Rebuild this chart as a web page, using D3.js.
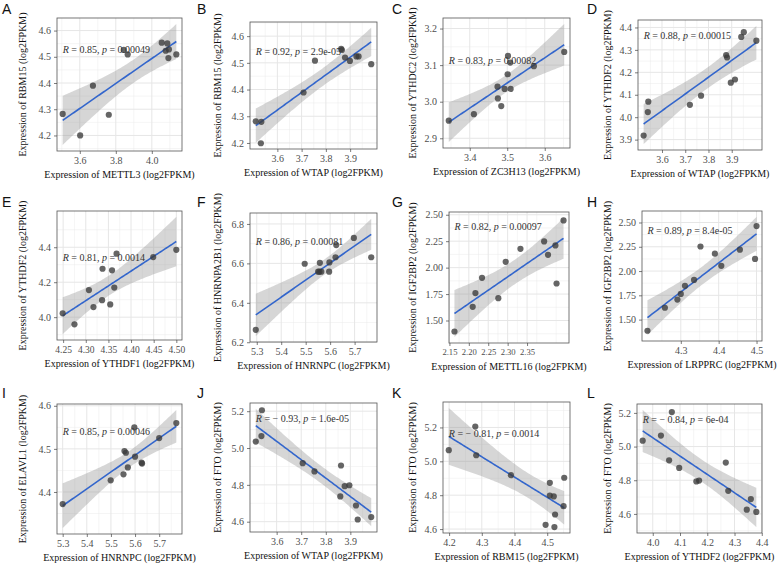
<!DOCTYPE html>
<html><head><meta charset="utf-8">
<script src="https://cdn.jsdelivr.net/npm/d3@7"></script>
<style>body{margin:0;background:#fff} svg{display:block}</style>
</head><body><svg id="c" width="779" height="566"></svg>
<script>
// ---------------- data ----------------
const panelLetters = ["A","B","C","D","E","F","G","H","I","J","K","L"];
const xGenes = ["METTL3","WTAP","ZC3H13","WTAP","YTHDF1","HNRNPC","METTL16","LRPPRC","HNRNPC","WTAP","RBM15","YTHDF2"];
const yGenes = ["RBM15","RBM15","YTHDC2","YTHDF2","YTHDF2","HNRNPA2B1","IGF2BP2","IGF2BP2","ELAVL1","FTO","FTO","FTO"];
const rLabels = ["0.85","0.92","0.83","0.88","0.81","0.86","0.82","0.89","0.85","\u2212 0.93","\u2212 0.81","\u2212 0.84"];
const pLabels = ["0.00049","2.9e-05","0.00082","0.00015","0.0014","0.00081","0.00097","8.4e-05","0.00046","1.6e-05","0.0014","6e-04"];

const xA=[3.505,3.602,3.673,3.761,3.844,3.866,4.055,4.086,4.077,4.095,4.092,4.136];
const yA=[4.282,4.200,4.390,4.279,4.526,4.509,4.554,4.551,4.523,4.528,4.495,4.509];
const xB=[3.511,3.534,3.532,3.708,3.755,3.863,3.866,3.879,3.899,3.926,3.935,3.987];
const yB=[4.281,4.279,4.199,4.389,4.508,4.552,4.548,4.520,4.507,4.524,4.524,4.495];
const xC=[3.344,3.411,3.474,3.475,3.484,3.493,3.501,3.502,3.508,3.509,3.571,3.652];
const yC=[2.948,2.966,3.041,3.009,2.988,3.035,3.075,3.125,3.107,3.035,3.097,3.136];
const xD=[3.521,3.539,3.541,3.720,3.768,3.876,3.880,3.896,3.914,3.941,3.952,4.006];
const yD=[3.918,4.023,4.069,4.055,4.096,4.277,4.266,4.154,4.168,4.358,4.379,4.341];
const xE=[4.249,4.275,4.307,4.317,4.337,4.336,4.358,4.354,4.363,4.368,4.449,4.500];
const yE=[4.022,3.959,4.155,4.058,4.277,4.097,4.268,4.073,4.169,4.363,4.344,4.385];
const xF=[5.296,5.496,5.558,5.551,5.564,5.556,5.596,5.597,5.622,5.625,5.697,5.768];
const yF=[6.263,6.598,6.603,6.558,6.558,6.558,6.558,6.605,6.631,6.693,6.729,6.631];
const xG=[2.163,2.210,2.217,2.234,2.276,2.295,2.333,2.394,2.404,2.423,2.426,2.444];
const yG=[1.396,1.629,1.759,1.904,1.711,2.055,2.178,2.248,2.121,2.210,1.850,2.446];
const xH=[4.212,4.258,4.291,4.300,4.311,4.335,4.352,4.390,4.407,4.456,4.496,4.500];
const yH=[1.385,1.622,1.706,1.764,1.848,1.909,2.253,2.179,2.054,2.220,2.125,2.463];
const xI=[5.300,5.499,5.552,5.556,5.562,5.570,5.597,5.600,5.627,5.629,5.700,5.771];
const yI=[4.372,4.427,4.441,4.495,4.491,4.457,4.550,4.482,4.468,4.466,4.525,4.560];
const xJ=[3.515,3.540,3.538,3.706,3.754,3.862,3.859,3.877,3.896,3.923,3.930,3.985];
const yJ=[5.035,5.205,5.065,4.918,4.873,4.905,4.737,4.793,4.798,4.688,4.612,4.625];
const xK=[4.199,4.280,4.283,4.389,4.508,4.552,4.550,4.508,4.520,4.524,4.522,4.495];
const yK=[5.066,5.205,5.036,4.918,4.873,4.903,4.735,4.798,4.793,4.686,4.612,4.625];
const xL=[3.963,4.030,4.070,4.060,4.097,4.160,4.170,4.268,4.277,4.345,4.360,4.380];
const yL=[5.035,5.065,5.205,4.918,4.873,4.793,4.798,4.905,4.737,4.625,4.688,4.612];

const xTicks = [
 ["3.6","3.8","4.0"], ["3.6","3.7","3.8","3.9"], ["3.4","3.5","3.6"], ["3.6","3.7","3.8","3.9"],
 ["4.25","4.30","4.35","4.40","4.45","4.50"], ["5.3","5.4","5.5","5.6","5.7"], ["2.15","2.20","2.25","2.30","2.35"], ["4.3","4.4","4.5"],
 ["5.3","5.4","5.5","5.6","5.7"], ["3.6","3.7","3.8","3.9"], ["4.2","4.3","4.4","4.5"], ["4.0","4.1","4.2","4.3","4.4"]
];
const yTicks = [
 ["4.2","4.3","4.4","4.5","4.6"], ["4.2","4.3","4.4","4.5","4.6"], ["2.9","3.0","3.1","3.2"], ["3.9","4.0","4.1","4.2","4.3","4.4"],
 ["4.0","4.2","4.4"], ["6.2","6.4","6.6","6.8"], ["1.50","1.75","2.00","2.25","2.50"], ["1.50","1.75","2.00","2.25","2.50"],
 ["4.4","4.5","4.6"], ["4.6","4.8","5.0","5.2"], ["4.6","4.8","5.0","5.2"], ["4.6","4.8","5.0","5.2"]
];
const xsAll=[xA,xB,xC,xD,xE,xF,xG,xH,xI,xJ,xK,xL];
const ysAll=[yA,yB,yC,yD,yE,yF,yG,yH,yI,yJ,yK,yL];

// ---------------- layout ----------------
const rects = [
 [57,18,182,151],[250,22,377,149],[443,18,570,148],[638,20,762,150],
 [57,211,182,340],[250,213,377,342],[449,212,569,343],[642,211,762,341],
 [57,404,182,534],[250,403,377,532],[443,402,570,533],[637,404,762,533]
];
const labelFrac = [0.24,0.23,0.33,0.12,0.36,0.22,0.11,0.15,0.21,0.12,0.24,0.12];
const xTickFont = [10,10,10,10,9.5,10,8.6,10,10,10,10,10];
const colX=[0,195,390,585], letterY=[14,207,398];
const serif = "Liberation Serif";

const svg = d3.select("#c");
svg.append("rect").attr("width",779).attr("height",566).attr("fill","#fff");

const tq = {8:2.306,9:2.262,10:2.228,11:2.201,12:2.179,13:2.160};

function fit(xs,ys){
  const n=xs.length, mx=d3.mean(xs), my=d3.mean(ys);
  let sxx=0,sxy=0; xs.forEach((x,i)=>{sxx+=(x-mx)**2; sxy+=(x-mx)*(ys[i]-my);});
  const b=sxy/sxx, a=my-b*mx;
  let sse=0; xs.forEach((x,i)=>{sse+=(ys[i]-a-b*x)**2;});
  const s=Math.sqrt(sse/(n-2)), t=tq[n-2]||2.2;
  const [x0,x1]=d3.extent(xs);
  const band=d3.range(81).map(k=>{
    const x=x0+(x1-x0)*k/80, yh=a+b*x, se=s*Math.sqrt(1/n+(x-mx)**2/sxx);
    return {x, y:yh, lo:yh-t*se, hi:yh+t*se};
  });
  return {a,b,band};
}

function minorVals(major, dom){
  const step = major[1]-major[0], out=[];
  for(let v=major[0]-step/2; v<=dom[1]+1e-9; v+=step){ if(v>=dom[0]-1e-9) out.push(v); }
  return out;
}

panelLetters.forEach((letter,i)=>{
  const [L,T,R,B]=rects[i];
  const col=i%4, row=Math.floor(i/4);
  const xs=xsAll[i], ys=ysAll[i];
  const f=fit(xs,ys);
  const xe=d3.extent(xs), xr=xe[1]-xe[0];
  const xd=[xe[0]-0.05*xr, xe[1]+0.05*xr];
  const ylo=Math.min(d3.min(ys), d3.min(f.band,d=>d.lo));
  const yhi=Math.max(d3.max(ys), d3.max(f.band,d=>d.hi));
  const yr=yhi-ylo, yd=[ylo-0.05*yr, yhi+0.05*yr];
  const x=d3.scaleLinear().domain(xd).range([L,R]);
  const y=d3.scaleLinear().domain(yd).range([B,T]);
  const xt=xTicks[i].map(Number), yt=yTicks[i].map(Number);
  const g=svg.append("g");

  // grid
  const grid=g.append("g");
  minorVals(xt,xd).forEach(v=>grid.append("line").attr("x1",x(v)).attr("x2",x(v)).attr("y1",T).attr("y2",B).attr("stroke","#ebebeb").attr("stroke-width",0.5));
  minorVals(yt,yd).forEach(v=>grid.append("line").attr("y1",y(v)).attr("y2",y(v)).attr("x1",L).attr("x2",R).attr("stroke","#ebebeb").attr("stroke-width",0.5));
  xt.forEach(v=>grid.append("line").attr("x1",x(v)).attr("x2",x(v)).attr("y1",T).attr("y2",B).attr("stroke","#e6e6e6").attr("stroke-width",1));
  yt.forEach(v=>grid.append("line").attr("y1",y(v)).attr("y2",y(v)).attr("x1",L).attr("x2",R).attr("stroke","#e6e6e6").attr("stroke-width",1));

  // ribbon + line
  g.append("path").datum(f.band)
    .attr("d",d3.area().x(d=>x(d.x)).y0(d=>y(d.lo)).y1(d=>y(d.hi)))
    .attr("fill","#999999").attr("fill-opacity",0.4);
  g.append("path").datum(f.band)
    .attr("d",d3.line().x(d=>x(d.x)).y(d=>y(d.y)))
    .attr("fill","none").attr("stroke","#3366cc").attr("stroke-width",1.6);

  // points
  g.selectAll("circle.pt").data(xs.map((v,k)=>[v,ys[k]])).join("circle")
    .attr("cx",d=>x(d[0])).attr("cy",d=>y(d[1])).attr("r",3.1)
    .attr("fill","#3a3a3a").attr("fill-opacity",0.78);

  // border
  g.append("rect").attr("x",L).attr("y",T).attr("width",R-L).attr("height",B-T)
    .attr("fill","none").attr("stroke","#555").attr("stroke-width",0.8);

  // axes
  const ax=g.append("g").attr("transform",`translate(0,${B})`)
    .call(d3.axisBottom(x).tickValues(xt).tickFormat((d,k)=>xTicks[i][k]).tickSize(3).tickPadding(3));
  const ay=g.append("g").attr("transform",`translate(${L},0)`)
    .call(d3.axisLeft(y).tickValues(yt).tickFormat((d,k)=>yTicks[i][k]).tickSize(3).tickPadding(3));
  [ax,ay].forEach(a=>{
    a.attr("font-family",serif);
    a.select(".domain").remove();
    a.selectAll("line").attr("stroke","#444").attr("stroke-width",0.7);
    a.selectAll("text").attr("fill","#4d4d4d").style("font-family",serif).style("font-size","10px");
  });
  ax.selectAll("text").style("font-size",xTickFont[i]+"px");

  // correlation label
  const lt=g.append("text").attr("x",x(xe[0])).attr("y",T+labelFrac[i]*(B-T)).attr("dy","0.35em")
    .style("font-family",serif).style("font-size","10px").attr("fill","#333");
  lt.append("tspan").attr("font-style","italic").text("R");
  lt.append("tspan").text(" = "+rLabels[i]+", ");
  lt.append("tspan").attr("font-style","italic").text("p");
  lt.append("tspan").text(" = "+pLabels[i]);

  // axis titles
  g.append("text").attr("x",(L+R)/2).attr("y",B+27).attr("text-anchor","middle")
    .style("font-family",serif).style("font-size","10px").attr("fill","#111")
    .text("Expression of "+xGenes[i]+" (log2FPKM)");
  g.append("text").attr("transform",`translate(${colX[col]+22},${(T+B)/2}) rotate(-90)`)
    .attr("dy","0.35em").attr("text-anchor","middle")
    .style("font-family",serif).style("font-size","10px").attr("fill","#111")
    .text("Expression of "+yGenes[i]+" (log2FPKM)");

  // panel letter
  g.append("text").attr("x",colX[col]+2).attr("y",letterY[row])
    .style("font-family","Liberation Sans").style("font-size","14px").attr("fill","#111")
    .text(letter);
});
</script></body></html>
